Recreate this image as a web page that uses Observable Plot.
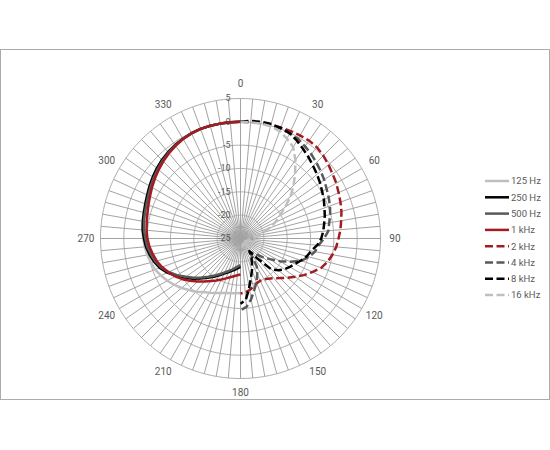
<!DOCTYPE html>
<html><head><meta charset="utf-8">
<script src="https://cdn.jsdelivr.net/npm/d3@7"></script>
<script src="https://cdn.jsdelivr.net/npm/@observablehq/plot@0.6"></script>
<style>
html,body{margin:0;padding:0;background:#fff;width:550px;height:450px;overflow:hidden;}
#wrap{position:relative;width:550px;height:450px;}
#frame{position:absolute;left:0;top:49px;width:550px;height:351px;box-sizing:border-box;border:1px solid #ababab;pointer-events:none;}
#chart{position:absolute;left:0;top:0;}
#legend{position:absolute;left:484px;top:172px;}
</style></head><body>
<div id="wrap"><div id="chart"></div><div id="legend"></div><div id="frame"></div></div>
<script>
// Angle categories (degrees, clockwise from top)
const spokeAngles = [0,5,10,15,20,25,30,35,40,45,50,55,60,65,70,75,80,85,90,95,100,105,110,115,120,125,130,135,140,145,150,155,160,165,170,175,180,185,190,195,200,205,210,215,220,225,230,235,240,245,250,255,260,265,270,275,280,285,290,295,300,305,310,315,320,325,330,335,340,345,350,355];
const angleLabels = [0,30,60,90,120,150,180,210,240,270,300,330];
const radialTicks = [5,0,-5,-10,-15,-20,-25];
const ringValues = [-20,-15,-10,-5,0,5];
const anglesBack = [180,185,190,195,200,205,210,215,220,225,230,235,240,245,250,255,260,265,270,275,280,285,290,295,300,305,310,315,320,325,330,335,340,345,350,355,360];
const anglesFront = [0,5,10,15,20,25,30,35,40,45,50,55,60,65,70,75,80,85,90,95,100,105,110,115,120,125,130,135,140,145,150,155,160,165,170,175,180];

// Series values (dB), solid series over anglesBack, dashed over anglesFront
const hz125 = [-13.3,-13.2,-13.1,-12.9,-12.6,-12.1,-11.6,-11.0,-10.1,-9.4,-8.5,-7.7,-6.9,-6.2,-5.55,-5.1,-4.7,-4.4,-4.15,-3.9,-3.7,-3.5,-3.25,-2.9,-2.45,-2.0,-1.55,-1.15,-0.8,-0.5,-0.3,-0.1,0,0,0,0,0];
const hz250 = [-18.9,-18.6,-18.2,-17.8,-17.3,-16.7,-15.9,-15.0,-14.0,-12.9,-11.6,-10.4,-9.0,-7.7,-6.6,-5.8,-5.2,-4.65,-4.3,-3.95,-3.75,-3.55,-3.3,-2.95,-2.5,-2.05,-1.6,-1.2,-0.85,-0.55,-0.3,-0.1,0,0,0,0,0];
const hz500 = [-19.3,-19.0,-18.6,-18.1,-17.6,-17.0,-16.2,-15.3,-14.3,-13.2,-11.9,-10.7,-9.3,-8.0,-6.9,-6.1,-5.5,-4.95,-4.6,-4.25,-4.0,-3.8,-3.55,-3.2,-2.75,-2.3,-1.85,-1.4,-1.0,-0.65,-0.35,-0.15,0,0,0,0,0];
const khz1 = [-17.3,-17.1,-16.8,-16.4,-15.9,-15.3,-14.6,-13.9,-13.0,-12.0,-10.9,-9.8,-8.8,-7.9,-7.1,-6.4,-5.9,-5.4,-5.05,-4.8,-4.6,-4.35,-4.0,-3.6,-3.1,-2.6,-2.1,-1.6,-1.15,-0.75,-0.4,-0.15,0,0,0,0,0];
const khz2 = [0,0,0.1,0.2,0.3,0.4,0.5,0.6,0.5,0.1,-0.4,-0.9,-1.3,-1.8,-2.2,-2.6,-3.1,-3.5,-4.0,-4.4,-5.0,-5.7,-6.6,-8.0,-9.3,-10.7,-11.9,-13.0,-13.9,-14.5,-14.9,-15.0,-14.8,-14.3,-13.8,-13.4,-13.2];
const khz4 = [0,0.1,0.2,0.2,0.1,-0.1,-0.35,-0.9,-1.4,-2.0,-2.55,-3.1,-3.7,-4.15,-4.6,-5.1,-5.7,-6.1,-7.1,-8.2,-8.8,-9.8,-11.1,-13.2,-15.3,-17.3,-18.8,-20.2,-21.0,-21.2,-18.0,-16.5,-15.0,-13.6,-11.8,-10.3,-9.6];
const khz8 = [0,0.3,0.4,0.4,0.2,-0.1,-0.8,-1.6,-2.3,-3.0,-3.6,-4.2,-4.8,-5.3,-5.85,-6.3,-6.8,-7.2,-7.7,-8.5,-9.6,-10.3,-11.2,-12.1,-12.8,-13.5,-14.4,-15.6,-19.5,-21.7,-20.3,-19.2,-17.8,-16.3,-14.3,-11.8,-11.0];
const khz16 = [0,0,0,-0.1,-0.5,-1.4,-2.4,-4.5,-6.8,-8.9,-11.0,-13.4,-15.4,-16.8,-18.3,-20.0,-21.1,-21.8,-22.2,-22.6,-23.4,-22.6,-22.3,-23.2,-23.9,-22.8,-22.2,-23.0,-23.6,-23.0,-23.3,-23.8,-23.5,-23.2,-23.6,-23.9,-24.0];

const seriesNames = ["125 Hz","250 Hz","500 Hz","1 kHz","2 kHz","4 kHz","8 kHz","16 kHz"];
const seriesValues = [hz125,hz250,hz500,khz1,khz2,khz4,khz8,khz16];
const seriesAngles = [anglesBack,anglesBack,anglesBack,anglesBack,anglesFront,anglesFront,anglesFront,anglesFront];
const seriesColors = ["#bfbfbf","#000000","#595959","#a31c22","#a31c22","#595959","#000000","#bfbfbf"];
const seriesDashed = [false,false,false,false,true,true,true,true];

const RMIN = -25, RMAX = 5;
const toLon = a => 180 - a;
const toLat = v => 90 - (v - RMIN);
const dash = "8,3.5";
const gridColor = "#a3a3a3";
const textColor = "#595959";

const lineMarks = seriesValues.map((vals, i) => {
  const rows = vals.map((v, j) => ({angle: seriesAngles[i][j], value: v}));
  return Plot.line(rows, {
    x: d => toLon(d.angle), y: d => toLat(d.value),
    curve: "linear",
    stroke: seriesColors[i], strokeWidth: 2.5,
    strokeDasharray: seriesDashed[i] ? dash : null,
    strokeLinejoin: "round", strokeLinecap: "butt"
  });
});

const chart = Plot.plot({
  width: 550, height: 450,
  marginLeft: 100, marginRight: 170, marginTop: 98, marginBottom: 72,
  style: {fontFamily: "Roboto, sans-serif", background: "transparent"},
  projection: {
    type: "azimuthal-equidistant",
    rotate: [0, -90],
    clip: false,
    domain: d3.geoCircle().center([0, 90]).radius(RMAX - RMIN).precision(1)()
  },
  marks: [
    Plot.link(spokeAngles, {x1: toLon, y1: toLat(RMAX), x2: toLon, y2: 90, stroke: gridColor, strokeWidth: 1}),
    Plot.geo(ringValues, {geometry: v => d3.geoCircle().center([0, 90]).radius(v - RMIN).precision(1)(), fill: "none", stroke: gridColor, strokeWidth: 0.9}),
    Plot.text(radialTicks, {x: toLon(0), y: toLat, text: d => String(d), textAnchor: "end", dx: -10, fill: textColor, fontSize: 9}),
    Plot.text(angleLabels, {x: toLon, y: toLat(RMAX + 3.1), text: d => String(d), fill: textColor, fontSize: 10}),
    ...lineMarks
  ]
});
document.getElementById("chart").appendChild(chart);

// Legend
const lg = d3.select("#legend").append("svg").attr("width", 66).attr("height", 140)
  .style("font-family", "Roboto, sans-serif").style("font-size", "9.5px");
seriesNames.forEach((name, i) => {
  const y = 9 + i * 16.3;
  lg.append("line").attr("x1", 1).attr("x2", 25).attr("y1", y).attr("y2", y)
    .attr("stroke", seriesColors[i]).attr("stroke-width", 2.5)
    .attr("stroke-dasharray", seriesDashed[i] ? dash : null);
  lg.append("text").attr("x", 27).attr("y", y).attr("dy", "0.35em").attr("fill", textColor).text(name);
});
</script>
</body></html>
